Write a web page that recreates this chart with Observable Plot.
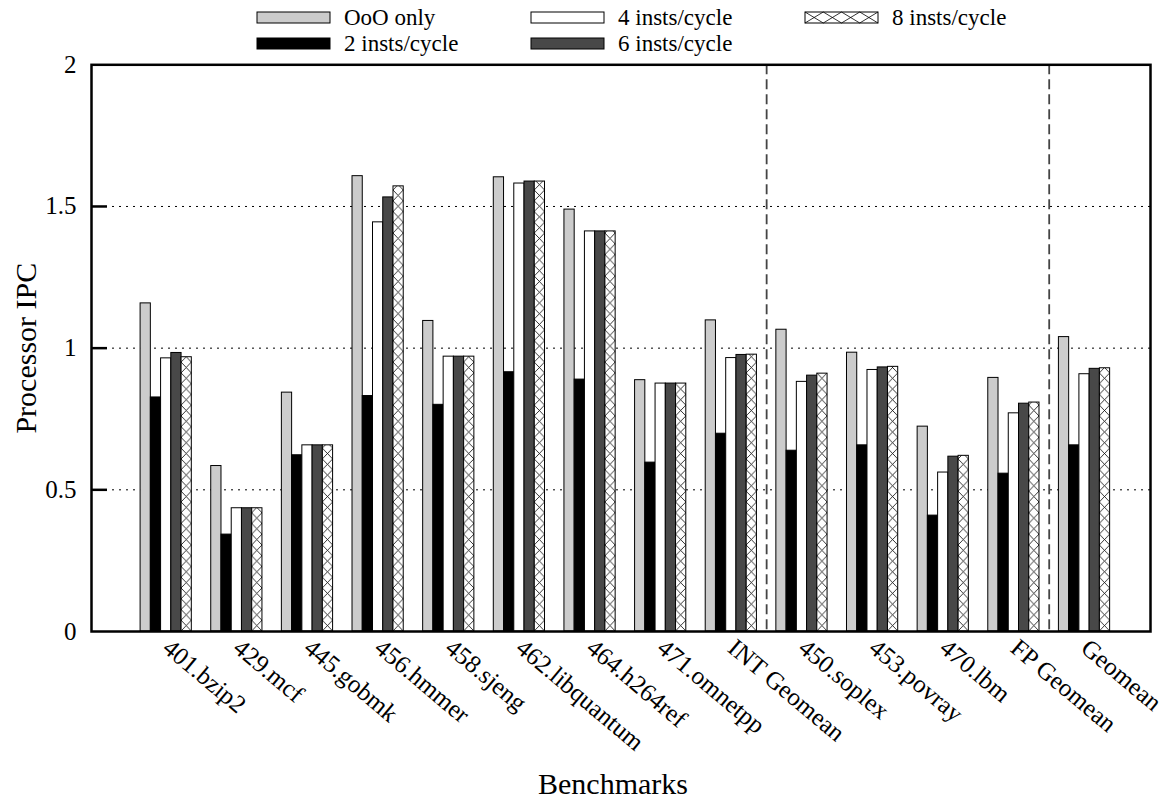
<!DOCTYPE html>
<html><head><meta charset="utf-8">
<script src="https://cdn.jsdelivr.net/npm/d3@7"></script>
<script src="https://cdn.jsdelivr.net/npm/@observablehq/plot@0.6"></script>
<style>
body{margin:0;background:#fff;font-family:"Liberation Serif","Times New Roman",serif;}
#wrap svg{display:block}
#legend{position:relative;z-index:0}
#chart{position:relative;z-index:1;margin-top:-14px}
</style></head><body>
<div id="wrap"><div id="legend"></div><div id="chart"></div></div>
<script>
// ---- data ----
const benchmarks = ["401.bzip2","429.mcf","445.gobmk","456.hmmer","458.sjeng","462.libquantum","464.h264ref","471.omnetpp","INT Geomean","450.soplex","453.povray","470.lbm","FP Geomean","Geomean"];
const suites = ["INT","INT","INT","INT","INT","INT","INT","INT","INT","FP","FP","FP","FP","ALL"];
const seriesNames = ["OoO only","2 insts/cycle","4 insts/cycle","6 insts/cycle","8 insts/cycle"];
const oooOnly = [1.158,0.584,0.843,1.607,1.096,1.603,1.489,0.887,1.098,1.065,0.984,0.723,0.895,1.039];
const insts2 = [0.826,0.342,0.622,0.831,0.800,0.915,0.889,0.596,0.698,0.638,0.657,0.409,0.557,0.657];
const insts4 = [0.964,0.435,0.657,1.444,0.970,1.581,1.412,0.875,0.965,0.881,0.923,0.561,0.770,0.908];
const insts6 = [0.983,0.435,0.657,1.532,0.970,1.588,1.412,0.875,0.976,0.903,0.932,0.617,0.804,0.927];
const insts8 = [0.968,0.435,0.657,1.571,0.970,1.588,1.412,0.875,0.977,0.910,0.934,0.620,0.808,0.929];
const yTicks = [0,0.5,1,1.5,2];
const yTickLabels = ["0","0.5","1","1.5","2"];
const gridValues = [0.5,1,1.5];

// ---- styles ----
const seriesColors = ["#cccccc","#000000","#ffffff","#484848","#fefefe"];
const hatchIndex = 4;
const barFrac = 0.145;
const FONT = "Liberation Serif";

const seriesValues = [oooOnly, insts2, insts4, insts6, insts8];
const rows = [];
benchmarks.forEach((b, i) => seriesValues.forEach((vals, j) => rows.push({bench: b, i, j, series: seriesNames[j], value: vals[i]})));
const separators = [];
for (let i = 1; i < suites.length; i++) if (suites[i] !== suites[i-1]) separators.push(i - 0.5);

const W = 1174, LH = 56, OVER = 14, H = 803 - LH + OVER;

// ---- legend ----
const leg = d3.create("svg").attr("width", W).attr("height", LH).attr("font-family", FONT);
seriesNames.forEach((s, k) => {
  const col = Math.floor(k / 2), row = k % 2;
  const x0 = 257 + col * 274, yc = 17.5 + row * 26, sw = 73, sh = 11;
  leg.append("rect").attr("x", x0).attr("y", yc - sh/2).attr("width", sw).attr("height", sh)
    .attr("fill", k === hatchIndex ? "#fff" : seriesColors[k]).attr("stroke", "#000").attr("stroke-width", 1);
  if (k === hatchIndex) {
    const n = 4, cw = sw / n;
    for (let m = 0; m < n; m++) {
      const a = x0 + m * cw;
      leg.append("path").attr("d", `M${a},${yc - sh/2}L${a + cw},${yc + sh/2}M${a + cw},${yc - sh/2}L${a},${yc + sh/2}`)
        .attr("stroke", "#000").attr("stroke-width", 0.8).attr("fill", "none");
    }
  }
  leg.append("text").attr("x", x0 + 87).attr("y", yc).attr("dy", "0.32em")
    .attr("font-family", FONT).attr("font-size", 23).attr("fill", "#000").text(s);
});
document.getElementById("legend").appendChild(leg.node());

// ---- chart ----
const chart = Plot.plot({
  width: W, height: H,
  marginTop: 64.3 - LH + OVER, marginBottom: 172, marginLeft: 91, marginRight: 24,
  x: {domain: [-1.0575, 13.934], axis: null},
  y: {domain: [0, 2], axis: null},
  color: {domain: seriesNames, range: seriesColors},
  style: {fontFamily: FONT, fontSize: "25px", color: "#000", background: "transparent"},
  marks: [
    Plot.ruleY(gridValues, {y: d => d, stroke: "#000", strokeWidth: 1, strokeDasharray: "2,5"}),
    Plot.ruleX(separators, {x: d => d, stroke: "#444", strokeWidth: 1.8, strokeDasharray: "10,5"}),
    Plot.rect(rows.filter(d => d.j !== hatchIndex), {
      x1: d => d.i + (d.j - 2.5) * barFrac, x2: d => d.i + (d.j - 1.5) * barFrac,
      y1: 0, y2: "value", fill: "series", stroke: "#000", strokeWidth: 1
    }),
    Plot.rect(rows.filter(d => d.j === hatchIndex), {
      x1: d => d.i + (d.j - 2.5) * barFrac, x2: d => d.i + (d.j - 1.5) * barFrac,
      y1: 0, y2: "value", fill: seriesColors[hatchIndex], stroke: "#000", strokeWidth: 1
    }),
    Plot.ruleY(gridValues, {y: d => d, stroke: "#000", strokeWidth: 2.5, insetRight: 1059 - 16}),
    Plot.frame({stroke: "#000", strokeWidth: 2.5}),
    Plot.text(yTicks, {y: d => d, frameAnchor: "left", textAnchor: "end", lineAnchor: "middle", dx: -15,
      text: (d, i) => yTickLabels[i], fontFamily: FONT, fontSize: 25, fill: "#000"}),
    Plot.text(benchmarks, {x: (d, i) => i, frameAnchor: "bottom", rotate: 40, textAnchor: "start", lineAnchor: "bottom",
      dx: -5, dy: 19, text: d => d, fontFamily: FONT, fontSize: 25, fill: "#000"}),
    Plot.text(["Processor IPC"], {frameAnchor: "left", rotate: -90, textAnchor: "middle", lineAnchor: "middle",
      dx: -65, text: d => d, fontFamily: FONT, fontSize: 30, fill: "#000"}),
    Plot.text(["Benchmarks"], {frameAnchor: "bottom", textAnchor: "middle", lineAnchor: "middle",
      dx: -8, dy: 153, text: d => d, fontFamily: FONT, fontSize: 30, fill: "#000"})
  ]
});
document.getElementById("chart").appendChild(chart);

// ---- hatch pattern for the 8 insts/cycle bars ----
const svg = d3.select(chart);
const defs = svg.append("defs");
svg.selectAll(`g[fill="${seriesColors[hatchIndex]}"] rect`).each(function(_, k) {
  const r = d3.select(this);
  const x = +r.attr("x"), y = +r.attr("y"), w = +r.attr("width"), h = +r.attr("height");
  const P = w * 1.05;
  const p = defs.append("pattern").attr("id", "hx" + k).attr("patternUnits", "userSpaceOnUse")
    .attr("x", x).attr("y", y + h).attr("width", w).attr("height", P);
  p.append("rect").attr("width", w).attr("height", P).attr("fill", "#fff");
  p.append("path").attr("d", `M0,0L${w},${P}M${w},0L0,${P}`).attr("stroke", "#000").attr("stroke-width", 0.8).attr("fill", "none");
  r.attr("fill", `url(#hx${k})`);
});
</script>
</body></html>
